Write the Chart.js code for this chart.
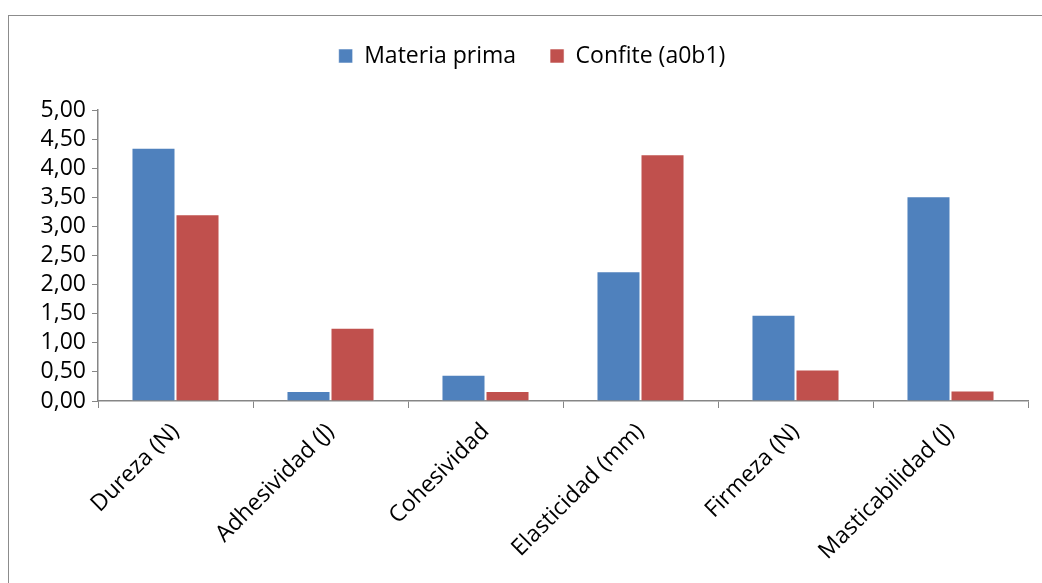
<!DOCTYPE html>
<html>
<head>
<meta charset="utf-8">
<script src="https://cdn.jsdelivr.net/npm/chart.js@4"></script>
<style>
html,body{margin:0;padding:0;background:#fff;}
#wrap{position:absolute;left:0;top:0;width:1042px;height:583px;}
</style>
</head>
<body>
<div id="wrap"><canvas id="c" width="1042" height="583"></canvas></div>
<script>
const categories = ["Dureza (N)", "Adhesividad (J)", "Cohesividad", "Elasticidad (mm)", "Firmeza (N)", "Masticabilidad (J)"];
const materiaPrima = [4.35, 0.17, 0.45, 2.23, 1.48, 3.52];
const confite = [3.21, 1.26, 0.17, 4.24, 0.54, 0.18];
const seriesNames = ["Materia prima", "Confite (a0b1)"];
const yTicks = [0, 0.5, 1, 1.5, 2, 2.5, 3, 3.5, 4, 4.5, 5];

const FONT = "'Open Sans', 'Liberation Sans', sans-serif";
const PAD_LEFT = 36;

const framePlugin = {
  id: 'frame',
  beforeDraw(chart) {
    const ctx = chart.ctx;
    ctx.save();
    ctx.fillStyle = '#fff';
    ctx.fillRect(0, 0, chart.width, chart.height);
    ctx.strokeStyle = '#8c8c8c';
    ctx.lineWidth = 1;
    ctx.strokeRect(8.5, 15.5, 1100, 700);
    ctx.restore();
  }
};

new Chart(document.getElementById('c'), {
  type: 'bar',
  data: {
    labels: categories,
    datasets: [
      { label: seriesNames[0], data: materiaPrima, backgroundColor: '#4F81BD', borderColor: 'rgba(255,255,255,0.55)', borderWidth: 1, categoryPercentage: 0.568, barPercentage: 1.0 },
      { label: seriesNames[1], data: confite, backgroundColor: '#C0504D', borderColor: 'rgba(255,255,255,0.55)', borderWidth: 1, categoryPercentage: 0.568, barPercentage: 1.0 }
    ]
  },
  plugins: [framePlugin],
  options: {
    responsive: false,
    animation: false,
    layout: { padding: { left: PAD_LEFT, right: 14, top: 10.5, bottom: 0 } },
    plugins: {
      legend: {
        position: 'top',
        labels: {
          font: { family: FONT, size: 23 },
          color: '#000',
          boxWidth: 14,
          boxHeight: 14,
          padding: 34
        }
      },
      title: {
        display: true,
        text: '',
        position: 'top',
        weight: 500,
        font: { size: 1 },
        padding: { top: 0, bottom: 31.3 }
      },
      tooltip: { enabled: false }
    },
    scales: {
      x: {
        afterFit(s) { s.height = 182; },
        grid: { display: true, drawOnChartArea: false, drawTicks: true, tickLength: 7, color: '#868686', offset: true },
        border: { display: true, color: '#868686', width: 1.5 },
        ticks: { font: { family: FONT, size: 23 }, color: '#000', maxRotation: 45, minRotation: 45, padding: 10, autoSkip: false }
      },
      y: {
        min: 0, max: 5,
        afterFit(s) { s.width = 98 - PAD_LEFT; },
        afterBuildTicks(s) { s.ticks = yTicks.map(v => ({ value: v })); },
        grid: { display: true, drawOnChartArea: false, drawTicks: true, tickLength: 6, color: '#868686' },
        border: { display: true, color: '#868686', width: 1.5 },
        ticks: {
          font: { family: FONT, size: 23 }, color: '#000', padding: 6, autoSkip: false,
          callback: v => v.toFixed(2).replace('.', ',')
        }
      }
    }
  }
});
</script>
</body>
</html>
